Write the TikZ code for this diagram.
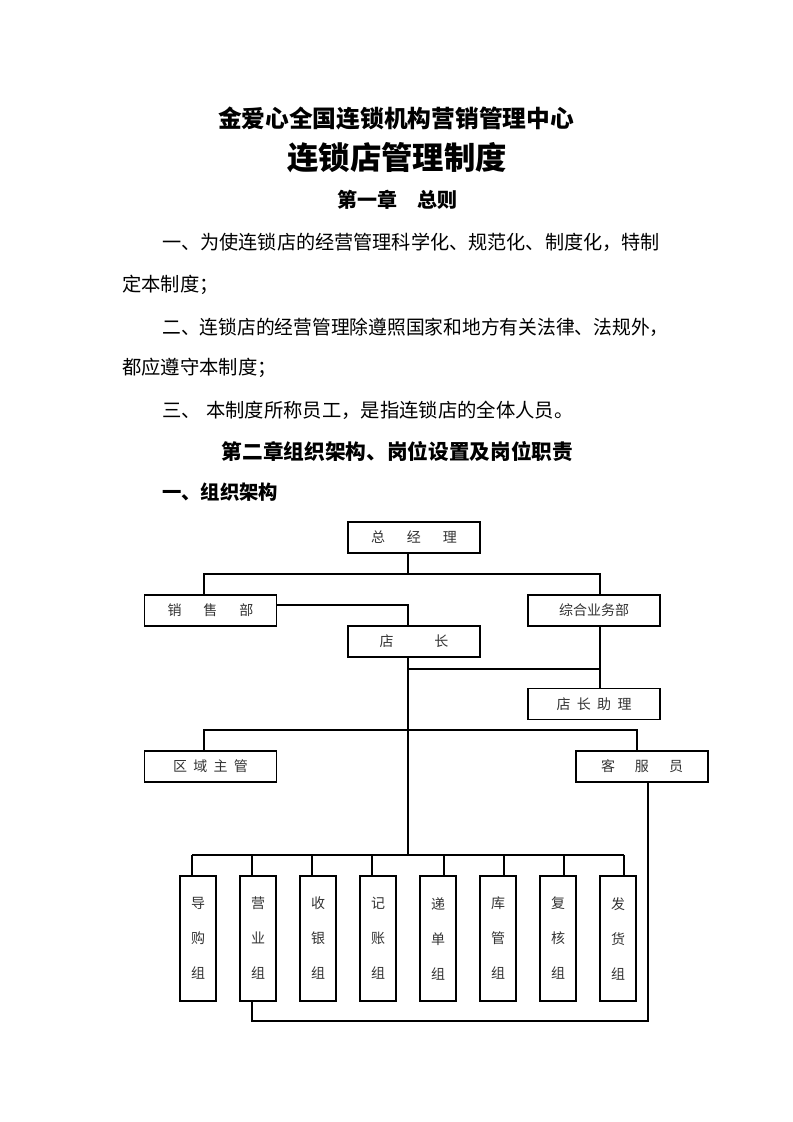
\documentclass[tikz,border=0pt]{standalone}
\usepackage{fontspec}
\newfontfamily\cjk{Noto Sans CJK SC}
\usetikzlibrary{calc}
\begin{document}
\begin{tikzpicture}[x=0.75pt,y=-0.75pt,
  box/.style={draw, line width=0.9pt, minimum width=99pt, minimum height=23.25pt, inner sep=0pt,
              font=\cjk\fontsize{10.5}{12}\selectfont, text=black!80},
  gbox/.style={draw, line width=0.9pt, minimum width=27pt, minimum height=93.75pt, inner sep=0pt,
              align=center, font=\cjk\fontsize{10.5}{26.25}\selectfont, text=black!80},
  conn/.style={line width=0.9pt},
  body/.style={anchor=west, inner sep=0pt, font=\cjk\fontsize{14.5}{16}\selectfont},
  head/.style={inner sep=0pt, font=\cjk\bfseries\fontsize{15.5}{18}\selectfont}]
\useasboundingbox[fill=white] (0,0) rectangle (793,1122);

% titles
\node[inner sep=0pt, font=\cjk\bfseries\fontsize{17.8}{20}\selectfont] (t1) at (396,118) {金爱心全国连锁机构营销管理中心};
\node[inner sep=0pt, font=\cjk\bfseries\fontsize{23.5}{26}\selectfont] (t2) at (397,158) {连锁店管理制度};
\node[inner sep=0pt, font=\cjk\bfseries\fontsize{15}{18}\selectfont] (t3) at (397,200) {第一章　总则};

% body
\node[body] (p1) at (162,242) {\scalebox{0.99}[1]{一、为使连锁店的经营管理科学化、规范化、制度化，特制}};
\node[body] (p2) at (122,285) {定本制度；};
\node[body] (p3) at (162,327) {\scalebox{0.97}[1]{二、连锁店的经营管理除遵照国家和地方有关法律、法规外，}};
\node[body] (p4) at (122,368) {都应遵守本制度；};
\node[body] (p5) at (162,410) {三、\hspace{4pt}本制度所称员工，是指连锁店的全体人员。};
\node[head] (h2) at (397.5,452) {第二章组织架构、岗位设置及岗位职责};
\node[head, anchor=west, font=\cjk\bfseries\fontsize{14.5}{16}\selectfont] (h3) at (162,492) {一、组织架构};

% org chart boxes
\node[box] (gm) at (414,537.5) {总\hspace{16.5pt}经\hspace{16.5pt}理};
\node[box] (sales) at (210.5,610.5) {销\hspace{16.5pt}售\hspace{16.5pt}部};
\node[box] (zh) at (594,610.5) {综合业务部};
\node[box] (dz) at (414,641.5) {店\hspace{30.75pt}长};
\node[box] (zl) at (594,704) {店\hspace{4.75pt}长\hspace{4.75pt}助\hspace{4.75pt}理};
\node[box] (qy) at (210.5,766.5) {区\hspace{4.75pt}域\hspace{4.75pt}主\hspace{4.75pt}管};
\node[box] (kf) at (642,766.5) {客\hspace{15pt}服\hspace{15pt}员};

\node[gbox] (g1) at (198,938.5) {导\\购\\组};
\node[gbox] (g2) at (258,938.5) {营\\业\\组};
\node[gbox] (g3) at (318,938.5) {收\\银\\组};
\node[gbox] (g4) at (378,938.5) {记\\账\\组};
\node[gbox] (g5) at (438,938.5) {递\\单\\组};
\node[gbox] (g6) at (498,938.5) {库\\管\\组};
\node[gbox] (g7) at (558,938.5) {复\\核\\组};
\node[gbox] (g8) at (618,938.5) {发\\货\\组};

% coordinates
\coordinate (sx) at (408,0);
\coordinate (b1) at (204,574);
\coordinate (b2) at (600,574);
\coordinate (c1) at (408,669);
\coordinate (c2) at (600,669);
\coordinate (d1) at (204,730);
\coordinate (d2) at (637,730);
\coordinate (gb) at (408,855);
\coordinate (e1) at (648,1021);
\coordinate (e2) at (252,1021);

% connectors
\draw[conn] (gm.south -| sx) -- (sx |- b1);
\draw[conn] (sales.north -| b1) -- (b1) -- (b2) -- (zh.north -| b2);
\draw[conn] ($(sales.east)+(0,-5.5)$) -| (dz.north -| sx);
\draw[conn] (dz.south -| sx) -- (gb);
\draw[conn] (c1) -- (c2);
\draw[conn] (zh.south -| c2) -- (zl.north -| c2);
\draw[conn] (qy.north -| d1) -- (d1) -- (d2) -- (kf.north -| d2);
\draw[conn] (kf.south -| e1) -- (e1) -- (e2) -- (g2.south -| e2);
\draw[conn] (192,855) coordinate (gl) -- (624,855) coordinate (gr);
\foreach \n/\x in {1/192,2/252,3/312,4/372,5/444,6/504,7/564,8/624}
  \draw[conn] (\x,855) -- (g\n.north -| \x,0);
\end{tikzpicture}
\end{document}
